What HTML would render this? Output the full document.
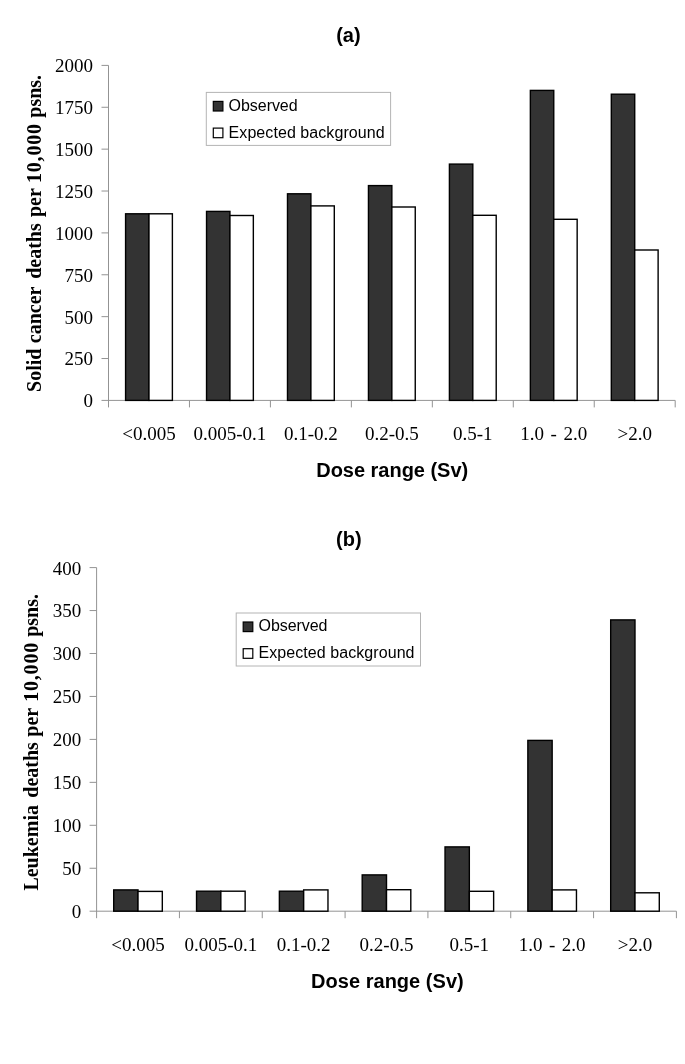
<!DOCTYPE html>
<html><head><meta charset="utf-8"><title>Figure</title>
<style>
html,body{margin:0;padding:0;background:#fff;}
body{width:685px;height:1064px;overflow:hidden;font-family:"Liberation Sans",sans-serif;}
svg{display:block;filter:grayscale(1);}
</style></head><body>
<svg width="685" height="1064" viewBox="0 0 685 1064">
<rect width="685" height="1064" fill="#fff"/>
<g stroke="#939393" stroke-width="1" fill="none">
<line x1="108.5" y1="65.4" x2="108.5" y2="407.4"/>
<line x1="101.5" y1="400.4" x2="675.2" y2="400.4"/>
<line x1="101.5" y1="358.52" x2="108.5" y2="358.52"/>
<line x1="101.5" y1="316.65" x2="108.5" y2="316.65"/>
<line x1="101.5" y1="274.77" x2="108.5" y2="274.77"/>
<line x1="101.5" y1="232.90" x2="108.5" y2="232.90"/>
<line x1="101.5" y1="191.02" x2="108.5" y2="191.02"/>
<line x1="101.5" y1="149.15" x2="108.5" y2="149.15"/>
<line x1="101.5" y1="107.27" x2="108.5" y2="107.27"/>
<line x1="101.5" y1="65.40" x2="108.5" y2="65.40"/>
<line x1="189.46" y1="400.4" x2="189.46" y2="407.4"/>
<line x1="270.41" y1="400.4" x2="270.41" y2="407.4"/>
<line x1="351.37" y1="400.4" x2="351.37" y2="407.4"/>
<line x1="432.33" y1="400.4" x2="432.33" y2="407.4"/>
<line x1="513.29" y1="400.4" x2="513.29" y2="407.4"/>
<line x1="594.24" y1="400.4" x2="594.24" y2="407.4"/>
<line x1="675.20" y1="400.4" x2="675.20" y2="407.4"/>
</g>
<g font-family="Liberation Serif, serif" font-size="19" fill="#000" text-anchor="end">
<text x="93.0" y="407.30">0</text>
<text x="93.0" y="365.42">250</text>
<text x="93.0" y="323.55">500</text>
<text x="93.0" y="281.67">750</text>
<text x="93.0" y="239.80">1000</text>
<text x="93.0" y="197.92">1250</text>
<text x="93.0" y="156.05">1500</text>
<text x="93.0" y="114.17">1750</text>
<text x="93.0" y="72.30">2000</text>
</g>
<g stroke="#000" stroke-width="1.4">
<rect x="125.58" y="213.8" width="23.4" height="186.60" fill="#333333"/>
<rect x="148.98" y="213.8" width="23.4" height="186.60" fill="#fff"/>
<rect x="206.54" y="211.4" width="23.4" height="189.00" fill="#333333"/>
<rect x="229.94" y="215.5" width="23.4" height="184.90" fill="#fff"/>
<rect x="287.49" y="193.8" width="23.4" height="206.60" fill="#333333"/>
<rect x="310.89" y="205.9" width="23.4" height="194.50" fill="#fff"/>
<rect x="368.45" y="185.6" width="23.4" height="214.80" fill="#333333"/>
<rect x="391.85" y="207.0" width="23.4" height="193.40" fill="#fff"/>
<rect x="449.41" y="164.1" width="23.4" height="236.30" fill="#333333"/>
<rect x="472.81" y="215.3" width="23.4" height="185.10" fill="#fff"/>
<rect x="530.36" y="90.4" width="23.4" height="310.00" fill="#333333"/>
<rect x="553.76" y="219.3" width="23.4" height="181.10" fill="#fff"/>
<rect x="611.32" y="94.2" width="23.4" height="306.20" fill="#333333"/>
<rect x="634.72" y="250.0" width="23.4" height="150.40" fill="#fff"/>
</g>
<g font-family="Liberation Serif, serif" font-size="19" fill="#000" text-anchor="middle" word-spacing="1.8">
<text x="148.98" y="439.6">&lt;0.005</text>
<text x="229.94" y="439.6">0.005-0.1</text>
<text x="310.89" y="439.6">0.1-0.2</text>
<text x="391.85" y="439.6">0.2-0.5</text>
<text x="472.81" y="439.6">0.5-1</text>
<text x="553.76" y="439.6">1.0 - 2.0</text>
<text x="634.72" y="439.6">&gt;2.0</text>
</g>
<rect x="206.3" y="92.4" width="184.3" height="53" fill="#fff" stroke="#b4b4b4" stroke-width="1"/>
<rect x="213.3" y="101.4" width="9.6" height="9.6" fill="#333333" stroke="#000" stroke-width="1.2"/>
<rect x="213.3" y="128.10000000000002" width="9.6" height="9.6" fill="#fff" stroke="#000" stroke-width="1.2"/>
<g font-family="Liberation Sans, sans-serif" font-size="16" fill="#000">
<text x="228.60000000000002" y="110.80000000000001" textLength="69" lengthAdjust="spacing">Observed</text>
<text x="228.60000000000002" y="137.7" textLength="156" lengthAdjust="spacing">Expected background</text>
</g>
<g font-family="Liberation Sans, sans-serif" font-weight="bold" font-size="20" fill="#000" text-anchor="middle">
<text x="348.4" y="41.6">(a)</text>
<text x="392.2" y="477.4" textLength="152" lengthAdjust="spacing">Dose range (Sv)</text>
</g>
<g font-family="Liberation Serif, serif" font-weight="bold" font-size="20" fill="#000">
<text transform="translate(41.2,391.9) rotate(-90)">Solid</text>
<text transform="translate(41.2,343.2) rotate(-90)">cancer</text>
<text transform="translate(41.2,278.8) rotate(-90)">deaths</text>
<text transform="translate(41.2,217.1) rotate(-90)">per</text>
<text transform="translate(41.2,183.0) rotate(-90)" letter-spacing="0.8">10,000</text>
<text transform="translate(41.2,117.7) rotate(-90)">psns.</text>
</g>
<g stroke="#939393" stroke-width="1" fill="none">
<line x1="96.6" y1="567.6" x2="96.6" y2="918.2"/>
<line x1="89.6" y1="911.2" x2="676.4" y2="911.2"/>
<line x1="89.6" y1="868.25" x2="96.6" y2="868.25"/>
<line x1="89.6" y1="825.30" x2="96.6" y2="825.30"/>
<line x1="89.6" y1="782.35" x2="96.6" y2="782.35"/>
<line x1="89.6" y1="739.40" x2="96.6" y2="739.40"/>
<line x1="89.6" y1="696.45" x2="96.6" y2="696.45"/>
<line x1="89.6" y1="653.50" x2="96.6" y2="653.50"/>
<line x1="89.6" y1="610.55" x2="96.6" y2="610.55"/>
<line x1="89.6" y1="567.60" x2="96.6" y2="567.60"/>
<line x1="179.43" y1="911.2" x2="179.43" y2="918.2"/>
<line x1="262.26" y1="911.2" x2="262.26" y2="918.2"/>
<line x1="345.09" y1="911.2" x2="345.09" y2="918.2"/>
<line x1="427.91" y1="911.2" x2="427.91" y2="918.2"/>
<line x1="510.74" y1="911.2" x2="510.74" y2="918.2"/>
<line x1="593.57" y1="911.2" x2="593.57" y2="918.2"/>
<line x1="676.40" y1="911.2" x2="676.40" y2="918.2"/>
</g>
<g font-family="Liberation Serif, serif" font-size="19" fill="#000" text-anchor="end">
<text x="81.2" y="918.10">0</text>
<text x="81.2" y="875.15">50</text>
<text x="81.2" y="832.20">100</text>
<text x="81.2" y="789.25">150</text>
<text x="81.2" y="746.30">200</text>
<text x="81.2" y="703.35">250</text>
<text x="81.2" y="660.40">300</text>
<text x="81.2" y="617.45">350</text>
<text x="81.2" y="574.50">400</text>
</g>
<g stroke="#000" stroke-width="1.4">
<rect x="113.71" y="889.9" width="24.3" height="21.30" fill="#333333"/>
<rect x="138.01" y="891.4" width="24.3" height="19.80" fill="#fff"/>
<rect x="196.54" y="891.2" width="24.3" height="20.00" fill="#333333"/>
<rect x="220.84" y="891.2" width="24.3" height="20.00" fill="#fff"/>
<rect x="279.37" y="891.2" width="24.3" height="20.00" fill="#333333"/>
<rect x="303.67" y="889.9" width="24.3" height="21.30" fill="#fff"/>
<rect x="362.20" y="874.9" width="24.3" height="36.30" fill="#333333"/>
<rect x="386.50" y="889.7" width="24.3" height="21.50" fill="#fff"/>
<rect x="445.03" y="846.9" width="24.3" height="64.30" fill="#333333"/>
<rect x="469.33" y="891.3" width="24.3" height="19.90" fill="#fff"/>
<rect x="527.86" y="740.4" width="24.3" height="170.80" fill="#333333"/>
<rect x="552.16" y="889.9" width="24.3" height="21.30" fill="#fff"/>
<rect x="610.69" y="619.9" width="24.3" height="291.30" fill="#333333"/>
<rect x="634.99" y="892.8" width="24.3" height="18.40" fill="#fff"/>
</g>
<g font-family="Liberation Serif, serif" font-size="19" fill="#000" text-anchor="middle" word-spacing="1.8">
<text x="138.01" y="951.0">&lt;0.005</text>
<text x="220.84" y="951.0">0.005-0.1</text>
<text x="303.67" y="951.0">0.1-0.2</text>
<text x="386.50" y="951.0">0.2-0.5</text>
<text x="469.33" y="951.0">0.5-1</text>
<text x="552.16" y="951.0">1.0 - 2.0</text>
<text x="634.99" y="951.0">&gt;2.0</text>
</g>
<rect x="236.2" y="613.0" width="184.3" height="53" fill="#fff" stroke="#b4b4b4" stroke-width="1"/>
<rect x="243.2" y="622.0" width="9.6" height="9.6" fill="#333333" stroke="#000" stroke-width="1.2"/>
<rect x="243.2" y="648.7" width="9.6" height="9.6" fill="#fff" stroke="#000" stroke-width="1.2"/>
<g font-family="Liberation Sans, sans-serif" font-size="16" fill="#000">
<text x="258.5" y="631.4" textLength="69" lengthAdjust="spacing">Observed</text>
<text x="258.5" y="658.3" textLength="156" lengthAdjust="spacing">Expected background</text>
</g>
<g font-family="Liberation Sans, sans-serif" font-weight="bold" font-size="20" fill="#000" text-anchor="middle">
<text x="348.8" y="545.7">(b)</text>
<text x="387.4" y="987.8" textLength="152.6" lengthAdjust="spacing">Dose range (Sv)</text>
</g>
<g font-family="Liberation Serif, serif" font-weight="bold" font-size="20" fill="#000">
<text transform="translate(38.0,890.6) rotate(-90)">Leukemia</text>
<text transform="translate(38.0,797.7) rotate(-90)">deaths</text>
<text transform="translate(38.0,736.7) rotate(-90)">per</text>
<text transform="translate(38.0,701.8) rotate(-90)" letter-spacing="0.8">10,000</text>
<text transform="translate(38.0,636.8) rotate(-90)">psns.</text>
</g>
</svg>
</body></html>
